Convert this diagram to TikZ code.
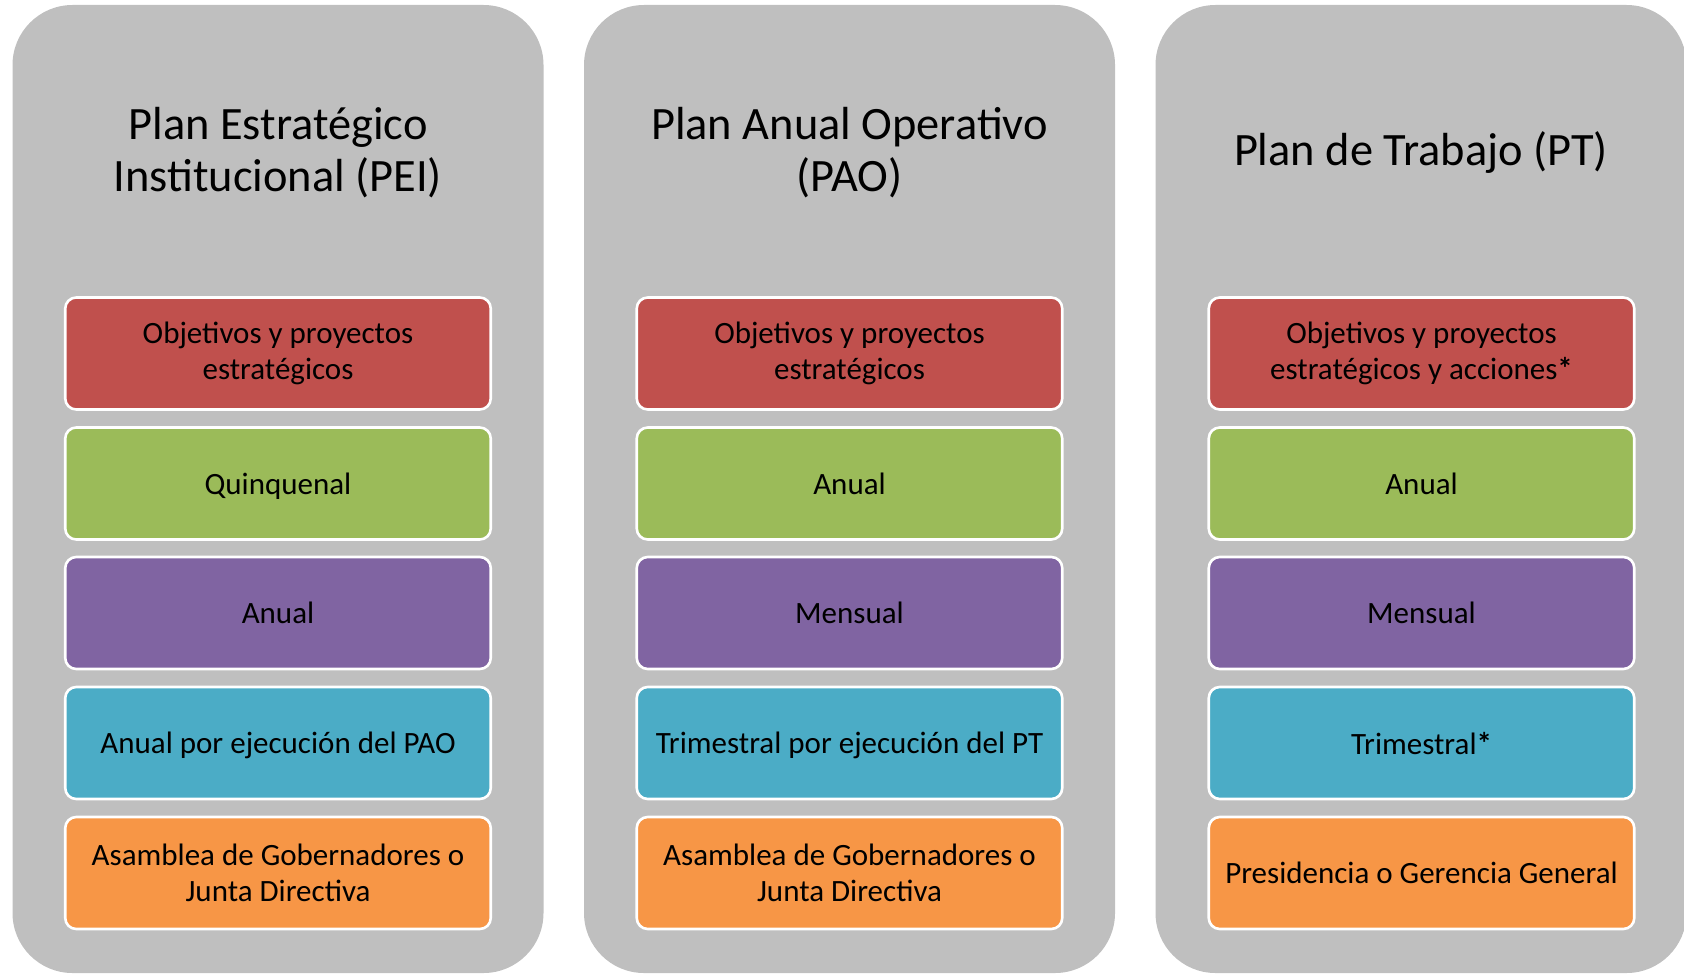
\documentclass[tikz,border=0pt]{standalone}
\usepackage{fontspec}
\setmainfont{Carlito}
\definecolor{colgray}{HTML}{BFBFBF}
\definecolor{cred}{HTML}{C0504D}
\definecolor{cgreen}{HTML}{9BBB59}
\definecolor{cpurple}{HTML}{8064A2}
\definecolor{cblue}{HTML}{4BACC6}
\definecolor{corange}{HTML}{F79646}
\tikzset{
  column/.style={fill=colgray, draw=none, rounded corners=30pt,
    minimum width=265.5pt, minimum height=484pt, inner sep=0pt},
  title/.style={align=center, font=\fontsize{23.2pt}{26pt}\selectfont, inner sep=0pt},
  item/.style={draw=white, line width=1.3pt, rounded corners=5.5pt,
    minimum width=212.75pt, minimum height=56pt, inner sep=0pt,
    align=center, font=\fontsize{15.5pt}{18pt}\selectfont},
  oneline/.style={text depth=0pt}
}
\begin{document}
\begin{tikzpicture}[x=0.5pt,y=-0.5pt]
\useasboundingbox (0,0) rectangle (1684,974);
% columns
\node[column] (c1) at (278,489) {};
\node[column] (c2) at (849.5,489) {};
\node[column] (c3) at (1421,489) {};
% titles
\node[title] (t1) at (278,153) {Plan Estratégico\\Institucional (PEI)};
\node[title] (t2) at (849.5,153) {Plan Anual Operativo\\(PAO)};
\node[title] (t3) at (1421,153) {Plan de Trabajo (PT)};
% column 1
\node[item, fill=cred] (a1) at (278,353.5) {Objetivos y proyectos\\estratégicos};
\node[item, oneline, fill=cgreen] (a2) at (278,483.5) {Quinquenal};
\node[item, oneline, fill=cpurple] (a3) at (278,613) {Anual};
\node[item, oneline, fill=cblue] (a4) at (278,743) {Anual por ejecución del PAO};
\node[item, fill=corange] (a5) at (278,873) {Asamblea de Gobernadores o\\Junta Directiva};
% column 2
\node[item, fill=cred] (b1) at (849.5,353.5) {Objetivos y proyectos\\estratégicos};
\node[item, oneline, fill=cgreen] (b2) at (849.5,483.5) {Anual};
\node[item, oneline, fill=cpurple] (b3) at (849.5,613) {Mensual};
\node[item, oneline, fill=cblue] (b4) at (849.5,743) {Trimestral por ejecución del PT};
\node[item, fill=corange] (b5) at (849.5,873) {Asamblea de Gobernadores o\\Junta Directiva};
% column 3
\node[item, fill=cred] (d1) at (1421.5,353.5) {Objetivos y proyectos\\estratégicos y acciones\textbf{*}};
\node[item, oneline, fill=cgreen] (d2) at (1421.5,483.5) {Anual};
\node[item, oneline, fill=cpurple] (d3) at (1421.5,613) {Mensual};
\node[item, oneline, fill=cblue] (d4) at (1421.5,743) {Trimestral\textbf{*}};
\node[item, oneline, fill=corange] (d5) at (1421.5,873) {Presidencia o Gerencia General};
\end{tikzpicture}
\end{document}
